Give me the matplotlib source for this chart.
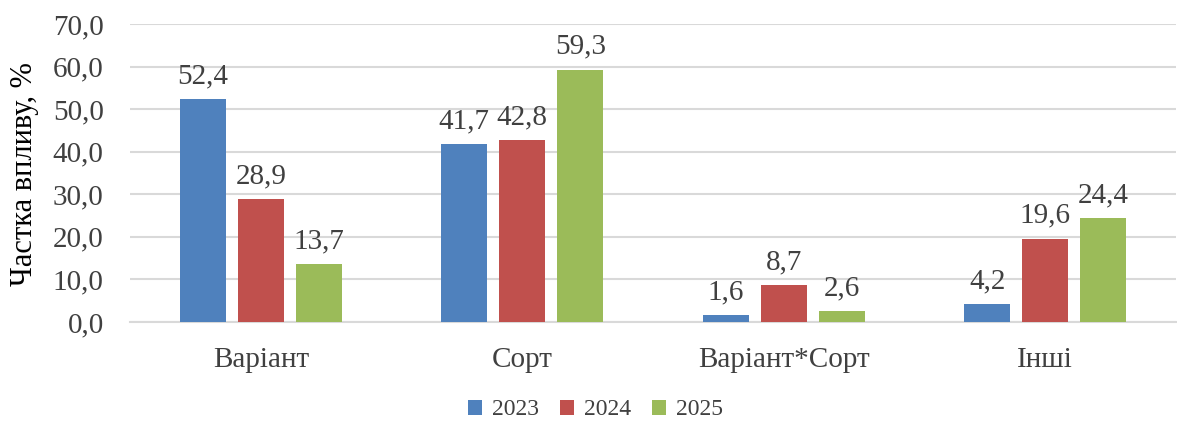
import numpy as np
import matplotlib
matplotlib.use("Agg")
import matplotlib.pyplot as plt

plt.rcParams['font.family'] = ['Liberation Serif', 'DejaVu Serif']

categories = ['Варіант', 'Сорт', 'Варіант*Сорт', 'Інші']
years = ['2023', '2024', '2025']
v2023 = [52.4, 41.7, 1.6, 4.2]
v2024 = [28.9, 42.8, 8.7, 19.6]
v2025 = [13.7, 59.3, 2.6, 24.4]
colors = ['#4F81BD', '#C0504D', '#9BBB59']
txt = '#404040'

fig = plt.figure(figsize=(11.77, 4.25), dpi=100)
ax = fig.add_axes([0.1105, 0.2424, 0.8885, 0.7011])

x = np.arange(len(categories))
width = 0.176
step = 0.222
for i, (vals, lab) in enumerate(zip([v2023, v2024, v2025], years)):
    bars = ax.bar(x + (i - 1) * step, vals, width, color=colors[i], label=lab, zorder=3)
    for b, v in zip(bars, vals):
        ax.annotate(f'{v:.1f}'.replace('.', ','), (b.get_x() + b.get_width() / 2, v),
                    xytext=(0, 7), textcoords='offset points', ha='center', va='bottom',
                    fontsize=21, color=txt)

ax.set_xlim(-0.5, len(categories) - 0.5)
ax.set_ylim(0, 70)
ax.set_yticks(np.arange(0, 71, 10))
ax.set_yticklabels([f'{t:.1f}'.replace('.', ',') for t in np.arange(0, 71, 10)])
ax.set_xticks(x)
ax.set_xticklabels(categories)
ax.tick_params(axis='y', length=0, pad=19, labelsize=21, labelcolor=txt)
ax.tick_params(axis='x', length=0, pad=18, labelsize=21, labelcolor=txt)
ax.grid(axis='y', color='#D9D9D9', lw=1.5, zorder=0)
for s in ['top', 'right', 'left']:
    ax.spines[s].set_visible(False)
ax.spines['bottom'].set_color('#D9D9D9')
ax.spines['bottom'].set_linewidth(1.5)

fig.text(0.021, 0.59, 'Частка впливу, %', rotation=90, ha='center', va='center',
         fontsize=22, color='black')

ax.legend(loc='center', bbox_to_anchor=(0.445, -0.295), bbox_transform=ax.transAxes,
          ncol=3, frameon=False, fontsize=17, handlelength=0.6, handleheight=0.6,
          handletextpad=0.4, columnspacing=0.9, labelcolor=txt)

fig.savefig('out.png', dpi=100)
